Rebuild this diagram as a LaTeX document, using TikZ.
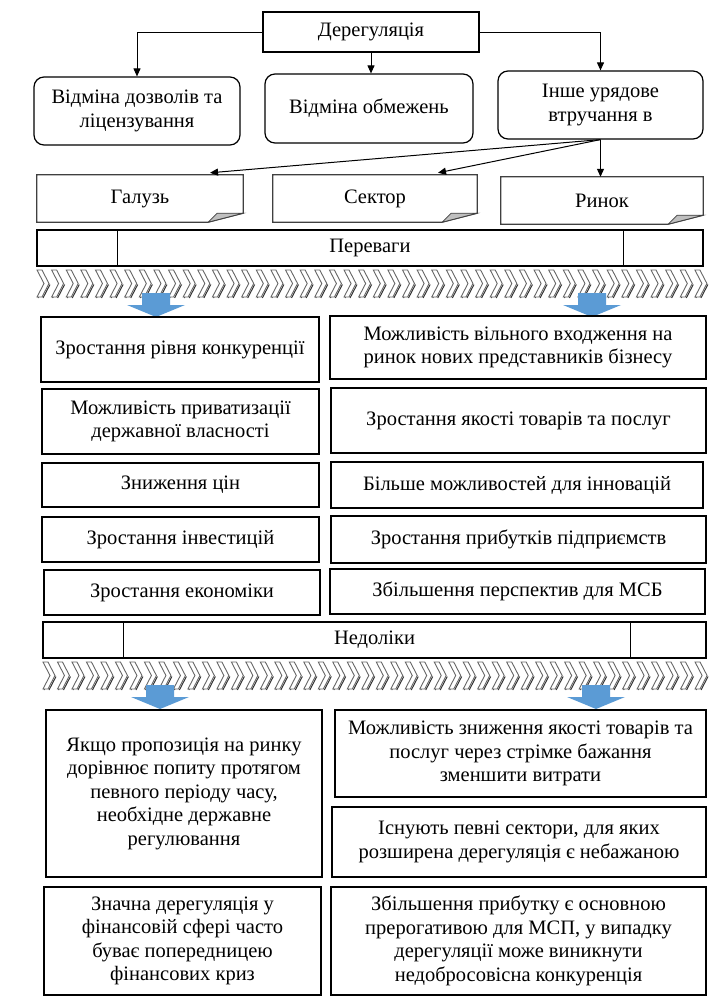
\documentclass[tikz,border=0pt]{standalone}
\usepackage{fontspec}
\setmainfont{Liberation Serif}
\usetikzlibrary{arrows.meta}
\definecolor{arrowblue}{RGB}{91,155,213}

% block arrow pointing down: centre x, top y
\newcommand{\bluedown}[2]{%
  \fill[arrowblue] (#1-14,#2) -- (#1+14,#2) -- (#1+14,#2+12) -- (#1+29,#2+12)
    -- (#1,#2+24) -- (#1-29,#2+12) -- (#1-14,#2+12) -- cycle;}

\begin{document}
\begin{tikzpicture}[
    x=1pt, y=-1pt,
    font=\fontsize{20.5}{23.5}\selectfont,
    box/.style={draw, line width=1.2pt, align=center, inner sep=2pt},
    roundbox/.style={box, rounded corners=10pt},
    docbox/.style={align=center, inner sep=0pt},
    docline/.style={draw=black!75, line width=1.2pt, line join=miter},
    fold/.style={draw=black!75, fill=black!25, line width=0.8pt},
    arrow/.style={-{Triangle[length=8pt,width=7pt]}, line width=1pt},
    chevron/.style={draw=black!60, fill=white, line width=0.9pt},
    chevshadow/.style={draw=black!80, line width=1pt}
]
    \useasboundingbox (0,0) rectangle (716,996);

    % Top
    \node[box, line width=1.8pt, minimum width=216, minimum height=40] (dereg) at (371,32) {Дерегуляція};

    % Three kinds of deregulation
    \node[roundbox, minimum width=206, minimum height=68] (perm) at (137,111) {Відміна дозволів та\\ліцензування};
    \node[roundbox, minimum width=208, minimum height=69] (restr) at (369,108.5) {Відміна обмежень};
    \node[roundbox, minimum width=205, minimum height=68] (other) at (600.5,105) {Інше урядове\\втручання в};

    \draw[arrow] (dereg.west) -| (perm.north);
    \draw[arrow] (dereg.south) -- (dereg.south |- restr.north);
    \draw[arrow] (dereg.east) -| (other.north);

    % Fields of intervention
    \node[docbox, minimum width=206, minimum height=47] (gal) at (140,198.5) {Галузь};
    \node[docbox, minimum width=204, minimum height=47] (sek) at (375,198.5) {Сектор};
    \node[docbox, minimum width=202, minimum height=47] (rin) at (602,200.5) {Ринок};
    \foreach \n in {gal,sek,rin} {
        \draw[docline] (\n.north west) -- (\n.north east) -- ([yshift=9pt]\n.south east)
            -- ([xshift=-35pt]\n.south east) -- (\n.south west) -- cycle;
        \filldraw[fold] ([yshift=9pt]\n.south east) -- ([xshift=-26pt,yshift=9pt]\n.south east)
            -- ([xshift=-35pt]\n.south east) -- cycle;
    }

    \draw[arrow] (other.south) -- ([xshift=70pt,yshift=2pt]gal.north);
    \draw[arrow] (other.south) -- ([xshift=63pt,yshift=2pt]sek.north);
    \draw[arrow] (other.south) -- (other.south |- rin.north);

    % Advantages
    \node[box, minimum width=666, minimum height=36] (adv) at (370,248) {Переваги};
    \draw[line width=1.2pt] ([xshift=81pt]adv.north west) -- ([xshift=81pt]adv.south west);
    \draw[line width=1.2pt] ([xshift=-80pt]adv.north east) -- ([xshift=-80pt]adv.south east);

    \foreach \i in {0,...,45} {
        \draw[chevshadow, shift={(37+\i*14.62+1,271)}] (0,27) -- (7,13.5) (5,27) -- (12,13.5);
        \draw[chevron, shift={(37+\i*14.62,270)}] (0,0) -- (5,0) -- (12,13.5) -- (5,27) -- (0,27) -- (7,13.5) -- cycle;
    }
    \bluedown{156}{293}
    \bluedown{592}{293}

    \node[box, minimum width=278, minimum height=65] (a1) at (180,349.5) {Зростання рівня конкуренції};
    \node[box, minimum width=376, minimum height=63] (b1) at (518,347.5) {Можливість вільного входження на\\ринок нових представників бізнесу};
    \node[box, minimum width=277, minimum height=65] (a2) at (180.5,421.5) {Можливість приватизації\\державної власності};
    \node[box, minimum width=375, minimum height=65] (b2) at (518.5,420.5) {Зростання якості товарів та послуг};
    \node[box, minimum width=277, minimum height=44] (a3) at (180.5,485) {Зниження цін};
    \node[box, minimum width=372, minimum height=46] (b3) at (517,485) {Більше можливостей для інновацій};
    \node[box, minimum width=277, minimum height=45] (a4) at (180.5,539.5) {Зростання інвестицій};
    \node[box, minimum width=375, minimum height=47] (b4) at (518.5,539.5) {Зростання прибутків підприємств};
    \node[box, minimum width=276, minimum height=45] (a5) at (182,592.5) {Зростання економіки};
    \node[box, minimum width=375, minimum height=45] (b5) at (517.5,591.5) {Збільшення перспектив для МСБ};

    % Disadvantages
    \node[box, minimum width=663, minimum height=36] (dis) at (374.5,640) {Недоліки};
    \draw[line width=1.2pt] ([xshift=81pt]dis.north west) -- ([xshift=81pt]dis.south west);
    \draw[line width=1.2pt] ([xshift=-76pt]dis.north east) -- ([xshift=-76pt]dis.south east);

    \foreach \i in {0,...,45} {
        \draw[chevshadow, shift={(43+\i*14.49+1,663)}] (0,27) -- (7,13.5) (5,27) -- (12,13.5);
        \draw[chevron, shift={(43+\i*14.49,662)}] (0,0) -- (5,0) -- (12,13.5) -- (5,27) -- (0,27) -- (7,13.5) -- cycle;
    }
    \bluedown{160}{685}
    \bluedown{596}{685}

    \node[box, minimum width=276, minimum height=167] (c1) at (184,793.5) {Якщо пропозиція на ринку\\дорівнює попиту протягом\\певного періоду часу,\\необхідне державне\\регулювання};
    \node[box, minimum width=371, minimum height=87] (d1) at (520.5,753.5) {Можливість зниження якості товарів та\\послуг через стрімке бажання\\зменшити витрати};
    \node[box, minimum width=374, minimum height=70] (d2) at (519,842) {Існують певні сектори, для яких\\розширена дерегуляція є небажаною};
    \node[box, minimum width=277, minimum height=108] (c2) at (182.5,941) {Значна дерегуляція у\\фінансовій сфері часто\\буває попередницею\\фінансових криз};
    \node[box, minimum width=375, minimum height=108] (d3) at (518.5,941) {Збільшення прибутку є основною\\прерогативою для МСП, у випадку\\дерегуляції може виникнути\\недобросовісна конкуренція};
\end{tikzpicture}
\end{document}
